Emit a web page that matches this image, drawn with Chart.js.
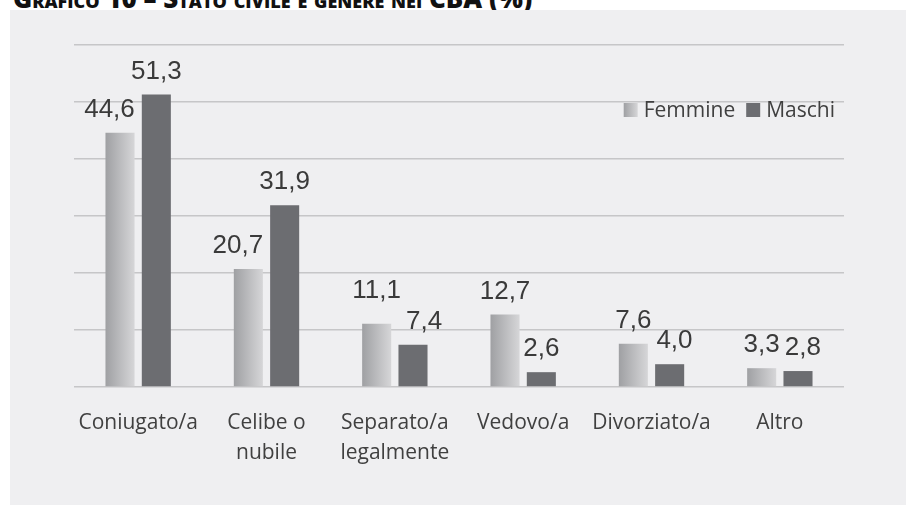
<!DOCTYPE html>
<html lang="it">
<head>
<meta charset="UTF-8">
<title>Stato civile e genere nei CBA</title>
<script src="https://cdn.jsdelivr.net/npm/chart.js"></script>
<style>
    html, body {
        margin: 0;
        padding: 0;
        background: #ffffff;
        width: 906px;
        height: 505px;
        overflow: hidden;
    }

    .titolo {
        position: absolute;
        left: 13px;
        top: -15px;
        font-family: "Open Sans", sans-serif;
        font-weight: 800;
        font-size: 26px;
        line-height: 26px;
        font-variant: small-caps;
        color: #111;
        white-space: nowrap;
    }

    .pannello {
        position: absolute;
        left: 10px;
        top: 10px;
        width: 896px;
        height: 495px;
        background: #efeff1;
    }
</style>
</head>
<body>
<div class="titolo">Grafico 10 – Stato civile e genere nei CBA (%)</div>
<div class="pannello">
    <canvas id="grafico"></canvas>
</div>

<script>
    // dati
    const categorie = ['Coniugato/a', ['Celibe o', 'nubile'], ['Separato/a', 'legalmente'], 'Vedovo/a', 'Divorziato/a', 'Altro'];
    const femmine = [44.6, 20.7, 11.1, 12.7, 7.6, 3.3];
    const maschi = [51.3, 31.9, 7.4, 2.6, 4.0, 2.8];
    const serie = ['Femmine', 'Maschi'];

    const yMin = 0;
    const yMax = 60;
    const yStep = 10;

    const coloreMaschi = '#6c6d71';
    const gradFemmine = ['#9fa0a3', '#d6d6d8'];
    const fontValori = '26px "Liberation Sans", Arial, sans-serif';

    function virgola(v) {
        return v.toFixed(1).replace('.', ',');
    }

    function gradiente(ctx, x0, x1) {
        const g = ctx.createLinearGradient(x0, 0, x1, 0);
        g.addColorStop(0, gradFemmine[0]);
        g.addColorStop(1, gradFemmine[1]);
        return g;
    }

    // sfumatura orizzontale sulle barre delle femmine, calcolata sulla posizione reale
    const pluginSfumatura = {
        id: 'sfumatura',
        beforeDatasetsDraw(chart) {
            const meta = chart.getDatasetMeta(0);
            meta.data.forEach(bar => {
                const g = gradiente(chart.ctx, bar.x - bar.width / 2, bar.x + bar.width / 2);
                bar.options = Object.assign({}, bar.options, { backgroundColor: g });
            });
        }
    };

    // etichette dei valori sopra le barre, spostate come fa Excel quando si toccano
    const pluginEtichette = {
        id: 'etichette',
        afterDatasetsDraw(chart) {
            const ctx = chart.ctx;
            const metaF = chart.getDatasetMeta(0);
            const metaM = chart.getDatasetMeta(1);
            const alto = 19;
            ctx.save();
            ctx.font = fontValori;
            ctx.fillStyle = '#3a3a3a';
            ctx.textAlign = 'center';
            ctx.textBaseline = 'alphabetic';
            categorie.forEach((c, j) => {
                const bf = metaF.data[j];
                const bm = metaM.data[j];
                const tf = virgola(femmine[j]);
                const tm = virgola(maschi[j]);
                const wf = ctx.measureText(tf).width;
                const wm = ctx.measureText(tm).width;
                let xf = bf.x;
                let xm = bm.x;
                let yf = bf.y - 16;
                const ym = bm.y - 16;
                // etichetta femmine accanto a una barra maschi più alta
                const sinistraM = bm.x - bm.width / 2;
                if (yf > bm.y && xf + wf / 2 > sinistraM - 7) {
                    xf = sinistraM - 7 - wf / 2;
                }
                // due etichette quasi alla stessa altezza
                const dy = ym - yf;
                const sovrapp = xf + wf / 2 + 5 - (xm - wm / 2);
                if (Math.abs(dy) < alto + 6 && sovrapp > 0) {
                    xm += sovrapp;
                    if (sovrapp > 8 && dy > 12) yf -= 10;
                }
                ctx.fillText(tf, xf, yf);
                ctx.fillText(tm, xm, ym);
            });
            ctx.restore();
        }
    };

    // legenda dentro l'area del grafico, in alto a destra
    const pluginLegenda = {
        id: 'legendaInterna',
        afterDraw(chart) {
            const ctx = chart.ctx;
            const area = chart.chartArea;
            const box = 14;
            const gapTesto = 6;
            const gapVoci = 11;
            const yc = area.top + 65;
            ctx.save();
            ctx.font = '21px "Open Sans", sans-serif';
            ctx.textBaseline = 'middle';
            ctx.textAlign = 'left';
            const larghezze = serie.map(s => ctx.measureText(s).width);
            let totale = 0;
            larghezze.forEach((w, i) => {
                totale += box + gapTesto + w + (i > 0 ? gapVoci : 0);
            });
            let x = area.right - 9 - totale;
            serie.forEach((s, i) => {
                if (i > 0) x += gapVoci;
                ctx.fillStyle = i === 0 ? gradiente(ctx, x, x + box) : coloreMaschi;
                ctx.fillRect(x, yc - box / 2, box, box);
                x += box + gapTesto;
                ctx.fillStyle = '#404040';
                ctx.fillText(s, x, yc + 1);
                x += larghezze[i];
            });
            ctx.restore();
        }
    };

    new Chart(document.getElementById('grafico'), {
        type: 'bar',
        data: {
            labels: categorie,
            datasets: [
                { label: serie[0], data: femmine, backgroundColor: gradFemmine[0] },
                { label: serie[1], data: maschi, backgroundColor: coloreMaschi }
            ]
        },
        options: {
            responsive: true,
            maintainAspectRatio: false,
            animation: false,
            datasets: {
                bar: {
                    categoryPercentage: 0.566,
                    barPercentage: 0.8
                }
            },
            layout: {
                padding: { left: 64, right: 62, top: 35, bottom: 0 }
            },
            plugins: {
                legend: { display: false },
                tooltip: { enabled: false }
            },
            scales: {
                x: {
                    grid: { display: false },
                    border: { display: false },
                    ticks: {
                        color: '#404040',
                        padding: 13,
                        maxRotation: 0,
                        autoSkip: false,
                        font: { family: '"Open Sans", sans-serif', size: 21, lineHeight: 1.43 }
                    },
                    afterFit(scale) {
                        scale.height = 118;
                    }
                },
                y: {
                    min: yMin,
                    max: yMax,
                    ticks: { display: false, stepSize: yStep },
                    border: { display: false },
                    grid: {
                        color: '#c6c6c8',
                        lineWidth: 1.6,
                        drawTicks: false
                    },
                    afterFit(scale) {
                        scale.width = 0;
                    }
                }
            }
        },
        plugins: [pluginSfumatura, pluginEtichette, pluginLegenda]
    });
</script>
</body>
</html>
